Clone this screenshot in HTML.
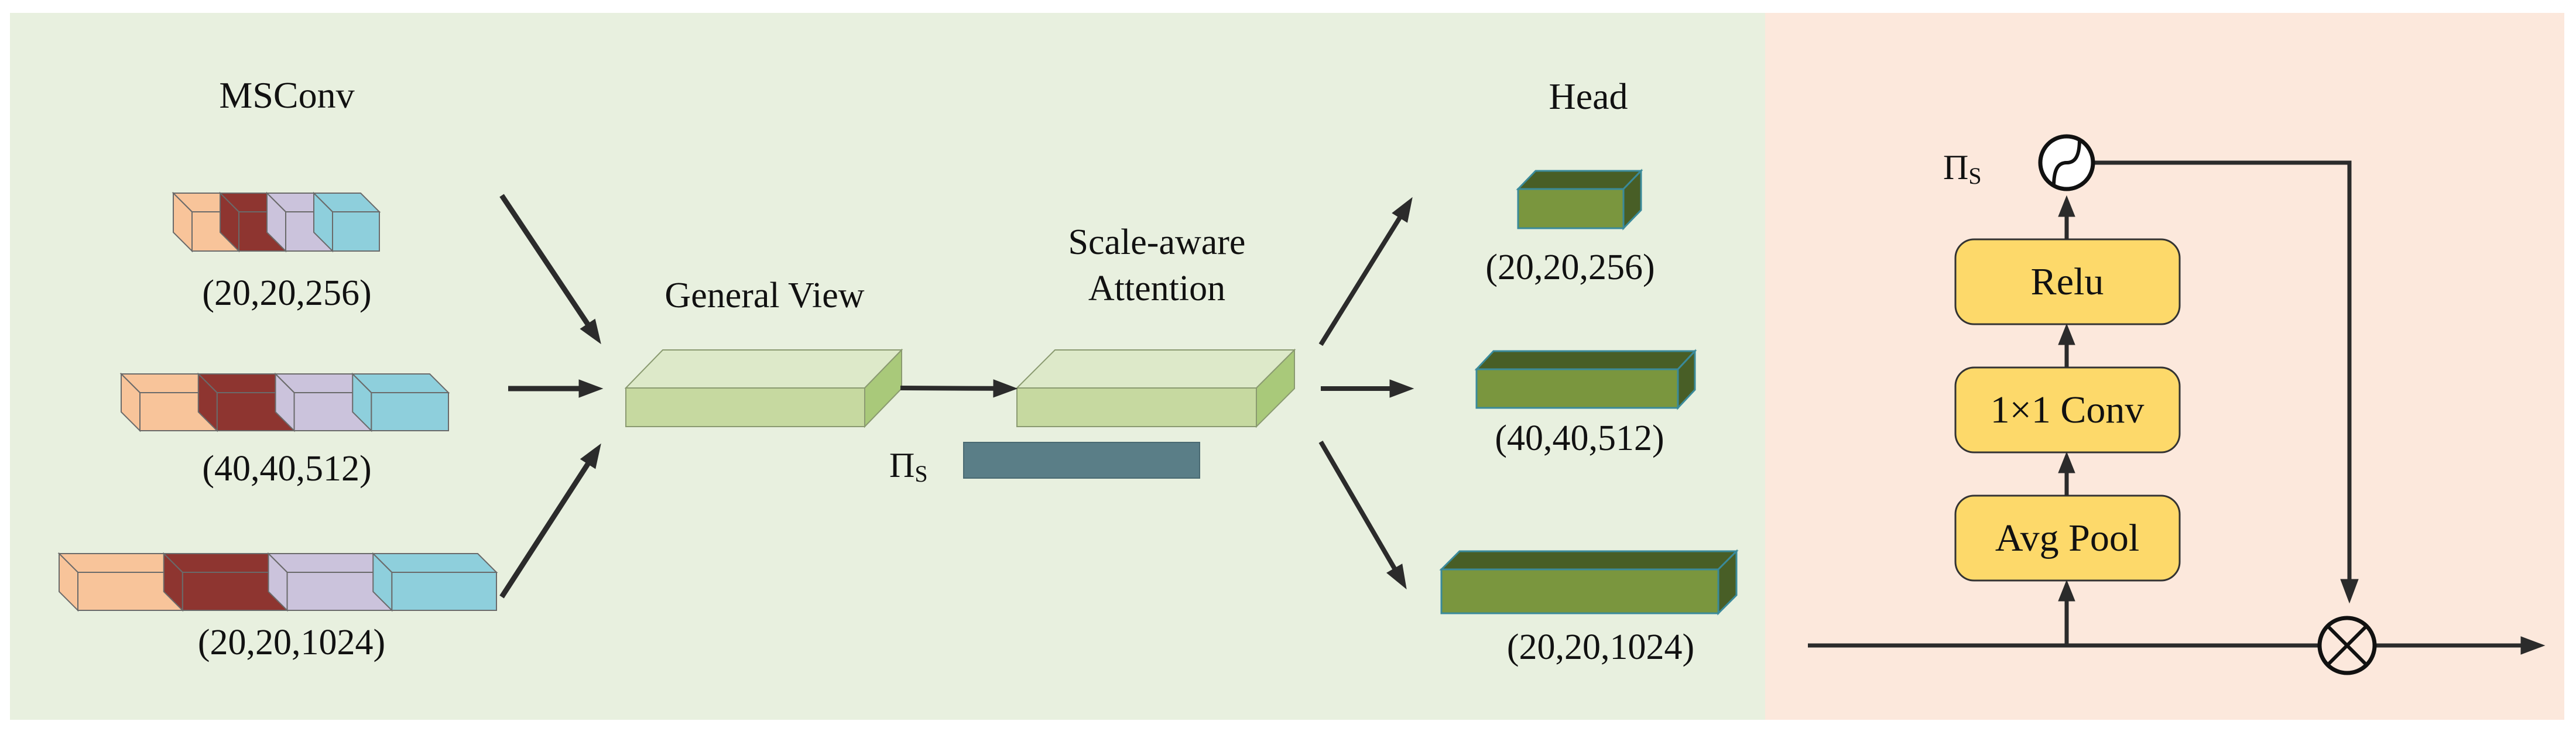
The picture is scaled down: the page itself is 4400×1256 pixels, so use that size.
<!DOCTYPE html>
<html><head><meta charset="utf-8"><style>
html,body{margin:0;padding:0;background:#fff}
svg{display:block}
</style></head><body>
<svg id="s" width="4400" height="1256" viewBox="0 0 4400 1256" xmlns="http://www.w3.org/2000/svg" font-family="'Liberation Serif', 'Times New Roman', serif">
<rect x="0" y="0" width="4400" height="1256" fill="#ffffff"/>
<rect x="17" y="22" width="2998" height="1208" fill="#e8f0df"/>
<rect x="3015" y="22" width="1365" height="1208" fill="#fce8dc"/>
<g id="shapes"></g>
<g font-size="62" text-anchor="middle" fill="#111" font-family="'Liberation Serif', 'Times New Roman', serif" style="font-family:'Liberation Serif',serif">
<text x="490" y="184" font-size="64">MSConv</text>
<text x="490" y="521">(20,20,256)</text>
<text x="490" y="821">(40,40,512)</text>
<text x="498" y="1118">(20,20,1024)</text>
<text x="1306" y="525">General View</text>
<text x="1976" y="434">Scale-aware</text>
<text x="1976" y="513">Attention</text>
<text x="2713" y="186" font-size="64">Head</text>
<text x="2682" y="477">(20,20,256)</text>
<text x="2698" y="769">(40,40,512)</text>
<text x="2734" y="1126">(20,20,1024)</text>
<text x="3531" y="503" font-size="66">Relu</text>
<text x="3531" y="722" font-size="66">1×1 Conv</text>
<text x="3531" y="941" font-size="66">Avg Pool</text>
<text x="1519" y="815" text-anchor="start" font-size="60">Π<tspan font-size="40" dy="8">S</tspan></text>
<text x="3319" y="306" text-anchor="start" font-size="60">Π<tspan font-size="40" dy="8">S</tspan></text>
</g>
</svg>
<script>
const g=document.getElementById('shapes');
const NS='http://www.w3.org/2000/svg';
function el(t,a){const e=document.createElementNS(NS,t);for(const k in a)e.setAttribute(k,a[k]);g.appendChild(e);return e;}
function poly(pts,fill,stroke,sw){el('polygon',{points:pts.map(p=>p.join(',')).join(' '),fill:fill,stroke:stroke||'#555','stroke-width':sw||2});}
const cols=['#f8c49a','#8e3530','#cbc3dc','#8ecfdc'];
function stack(x0,x1,y,h,d){
  const w=(x1-x0)/4;
  for(let i=0;i<4;i++){
    const a=x0+i*w,b=a+w;
    poly([[a,y],[a-d,y-d],[b-d,y-d],[b,y]],cols[i],'#6a6a6a',2);
    poly([[a,y],[b,y],[b,y+h],[a,y+h]],cols[i],'#6a6a6a',2);
    poly([[a,y],[a-d,y-d],[a-d,y+h-d],[a,y+h]],cols[i],'#6a6a6a',2);
  }
}
stack(328,648,362,67,32);
stack(239,766,671,65,32);
stack(133,848,978,65,32);
function box(x,y,w,h,dx,dy,front,top,side,stroke,sw){
  poly([[x,y],[x+dx,y-dy],[x+w+dx,y-dy],[x+w,y]],top,stroke,sw);
  poly([[x+w,y],[x+w+dx,y-dy],[x+w+dx,y+h-dy],[x+w,y+h]],side,stroke,sw);
  poly([[x,y],[x+w,y],[x+w,y+h],[x,y+h]],front,stroke,sw);
}
box(1069,663,408,66,63,65,'#c6d9a0','#dde9c9','#a9c97a','#8a9a70',2);
box(1737,663,409,66,65,65,'#c6d9a0','#dde9c9','#a9c97a','#8a9a70',2);
box(2593,323,180,67,30,31,'#7a963e','#485e26','#485e26','#3a8a9a',3);
box(2522,631,344,66,29,31,'#7a963e','#485e26','#485e26','#3a8a9a',3);
box(2462,973,473,75,31,31,'#7a963e','#485e26','#485e26','#3a8a9a',3);
el('rect',{x:1646,y:756,width:403,height:61,fill:'#5a7e87',stroke:'#4a6a72','stroke-width':2});
function arrow(x1,y1,x2,y2,sw,hl,hw){
  const dx=x2-x1,dy=y2-y1,L=Math.hypot(dx,dy),ux=dx/L,uy=dy/L;
  const bx=x2-ux*hl,by=y2-uy*hl;
  el('line',{x1:x1,y1:y1,x2:bx,y2:by,stroke:'#2b2b2b','stroke-width':sw});
  poly([[x2,y2],[bx-uy*hw,by+ux*hw],[bx+uy*hw,by-ux*hw]],'#2b2b2b','#2b2b2b',1);
}
arrow(857,334,1026,587,9,40,15);
arrow(868,664,1029,664,9,40,15);
arrow(857,1020,1026,759,9,40,15);
arrow(1538,663,1737,664,8,40,15);
arrow(2256,589,2412,338,8,40,15);
arrow(2256,664,2414,664,8,40,15);
arrow(2256,755,2402,1006,8,40,15);
function rbox(y){el('rect',{x:3340,y:y,width:383,height:145,rx:32,ry:32,fill:'#fdd96a',stroke:'#333','stroke-width':3});}
rbox(409);rbox(628);rbox(847);
arrow(3530,409,3530,335,7,35,14);
arrow(3530,628,3530,554,7,35,14);
arrow(3530,847,3530,773,7,35,14);
arrow(3530,1103,3530,992,7,35,14);
arrow(3088,1103,4346,1103,7,40,15);
el('polyline',{points:'3577,278 4013,278 4013,1000',fill:'none',stroke:'#2b2b2b','stroke-width':7});
arrow(4013,990,4013,1030,7,40,15);
el('circle',{cx:3530,cy:278,r:45,fill:'#fff',stroke:'#111','stroke-width':7});
el('path',{d:'M3508,318 C3508,290 3515,278 3530,278 C3545,278 3552,266 3552,238',fill:'none',stroke:'#111','stroke-width':6});
el('circle',{cx:4009,cy:1103,r:47,fill:'#fce8dc',stroke:'#111','stroke-width':7});
el('line',{x1:3976,y1:1070,x2:4042,y2:1136,stroke:'#111','stroke-width':6});
el('line',{x1:4042,y1:1070,x2:3976,y2:1136,stroke:'#111','stroke-width':6});
</script>
</body></html>
